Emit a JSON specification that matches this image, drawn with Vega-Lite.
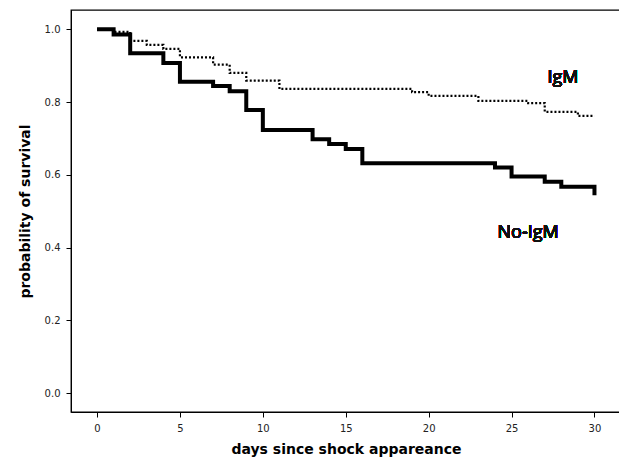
{
  "$schema": "https://vega.github.io/schema/vega-lite/v6.json",
  "autosize": "none",
  "width": 550,
  "height": 402,
  "padding": {"left": 71, "top": 10, "right": 0, "bottom": 51},
  "background": "white",
  "config": {
    "view": {"stroke": "black", "strokeWidth": 1.3},
    "axis": {
      "domainColor": "black",
      "tickColor": "black",
      "labelColor": "#222",
      "labelFont": "DejaVu Sans",
      "labelFontSize": 10,
      "titleFont": "DejaVu Sans",
      "titleFontWeight": "bold",
      "titleFontSize": 14,
      "titleColor": "black",
      "grid": false,
      "tickSize": 5
    }
  },
  "data": {
    "values": [
      {"group": "No-IgM", "day": 0, "surv": 1.0},
      {"group": "No-IgM", "day": 1, "surv": 0.986},
      {"group": "No-IgM", "day": 2, "surv": 0.934},
      {"group": "No-IgM", "day": 4, "surv": 0.907},
      {"group": "No-IgM", "day": 5, "surv": 0.856},
      {"group": "No-IgM", "day": 7, "surv": 0.844},
      {"group": "No-IgM", "day": 8, "surv": 0.83},
      {"group": "No-IgM", "day": 9, "surv": 0.778},
      {"group": "No-IgM", "day": 10, "surv": 0.723},
      {"group": "No-IgM", "day": 13, "surv": 0.698},
      {"group": "No-IgM", "day": 14, "surv": 0.685},
      {"group": "No-IgM", "day": 15, "surv": 0.671},
      {"group": "No-IgM", "day": 16, "surv": 0.632},
      {"group": "No-IgM", "day": 24, "surv": 0.62},
      {"group": "No-IgM", "day": 25, "surv": 0.595},
      {"group": "No-IgM", "day": 27, "surv": 0.581},
      {"group": "No-IgM", "day": 28, "surv": 0.567},
      {"group": "No-IgM", "day": 30, "surv": 0.544},
      {"group": "IgM", "day": 0, "surv": 1.0},
      {"group": "IgM", "day": 1, "surv": 0.993},
      {"group": "IgM", "day": 2, "surv": 0.968},
      {"group": "IgM", "day": 3, "surv": 0.957},
      {"group": "IgM", "day": 4, "surv": 0.946},
      {"group": "IgM", "day": 5, "surv": 0.923},
      {"group": "IgM", "day": 7, "surv": 0.903},
      {"group": "IgM", "day": 8, "surv": 0.88},
      {"group": "IgM", "day": 9, "surv": 0.859},
      {"group": "IgM", "day": 11, "surv": 0.836},
      {"group": "IgM", "day": 19, "surv": 0.827},
      {"group": "IgM", "day": 20, "surv": 0.817},
      {"group": "IgM", "day": 23, "surv": 0.803},
      {"group": "IgM", "day": 26, "surv": 0.797},
      {"group": "IgM", "day": 27, "surv": 0.773},
      {"group": "IgM", "day": 29, "surv": 0.762},
      {"group": "IgM", "day": 30, "surv": 0.762}
    ]
  },
  "encoding": {
    "x": {
      "field": "day", "type": "quantitative",
      "scale": {"domain": [-1.57, 31.6], "nice": false, "zero": false},
      "axis": {"values": [0, 5, 10, 15, 20, 25, 30], "title": "days since shock appareance", "labelPadding": 6, "titlePadding": 9, "labelFlush": false}
    },
    "y": {
      "field": "surv", "type": "quantitative",
      "scale": {"domain": [-0.052, 1.053], "nice": false, "zero": false},
      "axis": {"values": [0, 0.2, 0.4, 0.6, 0.8, 1.0], "format": ".1f", "title": "probability of survival", "labelPadding": 6, "titlePadding": 12, "labelFlush": false}
    }
  },
  "layer": [
    {
      "transform": [{"filter": "datum.group === 'IgM'"}],
      "mark": {"type": "line", "interpolate": "step-after", "color": "black", "strokeWidth": 2.2, "strokeDash": [2, 2]}
    },
    {
      "transform": [{"filter": "datum.group === 'No-IgM'"}],
      "mark": {"type": "line", "interpolate": "step-after", "color": "black", "strokeWidth": 4}
    },
    {
      "mark": {"type": "text", "font": "Open Sans", "fontSize": 18, "fontWeight": "normal", "color": "#111", "align": "center", "baseline": "middle"},
      "encoding": {
        "x": {"datum": 28.1},
        "y": {"datum": 0.866},
        "text": {"value": "IgM"}
      }
    },
    {
      "mark": {"type": "text", "font": "Open Sans", "fontSize": 18, "fontWeight": "normal", "color": "#111", "align": "center", "baseline": "middle"},
      "encoding": {
        "x": {"datum": 26.0},
        "y": {"datum": 0.44},
        "text": {"value": "No-IgM"}
      }
    }
  ]
}
